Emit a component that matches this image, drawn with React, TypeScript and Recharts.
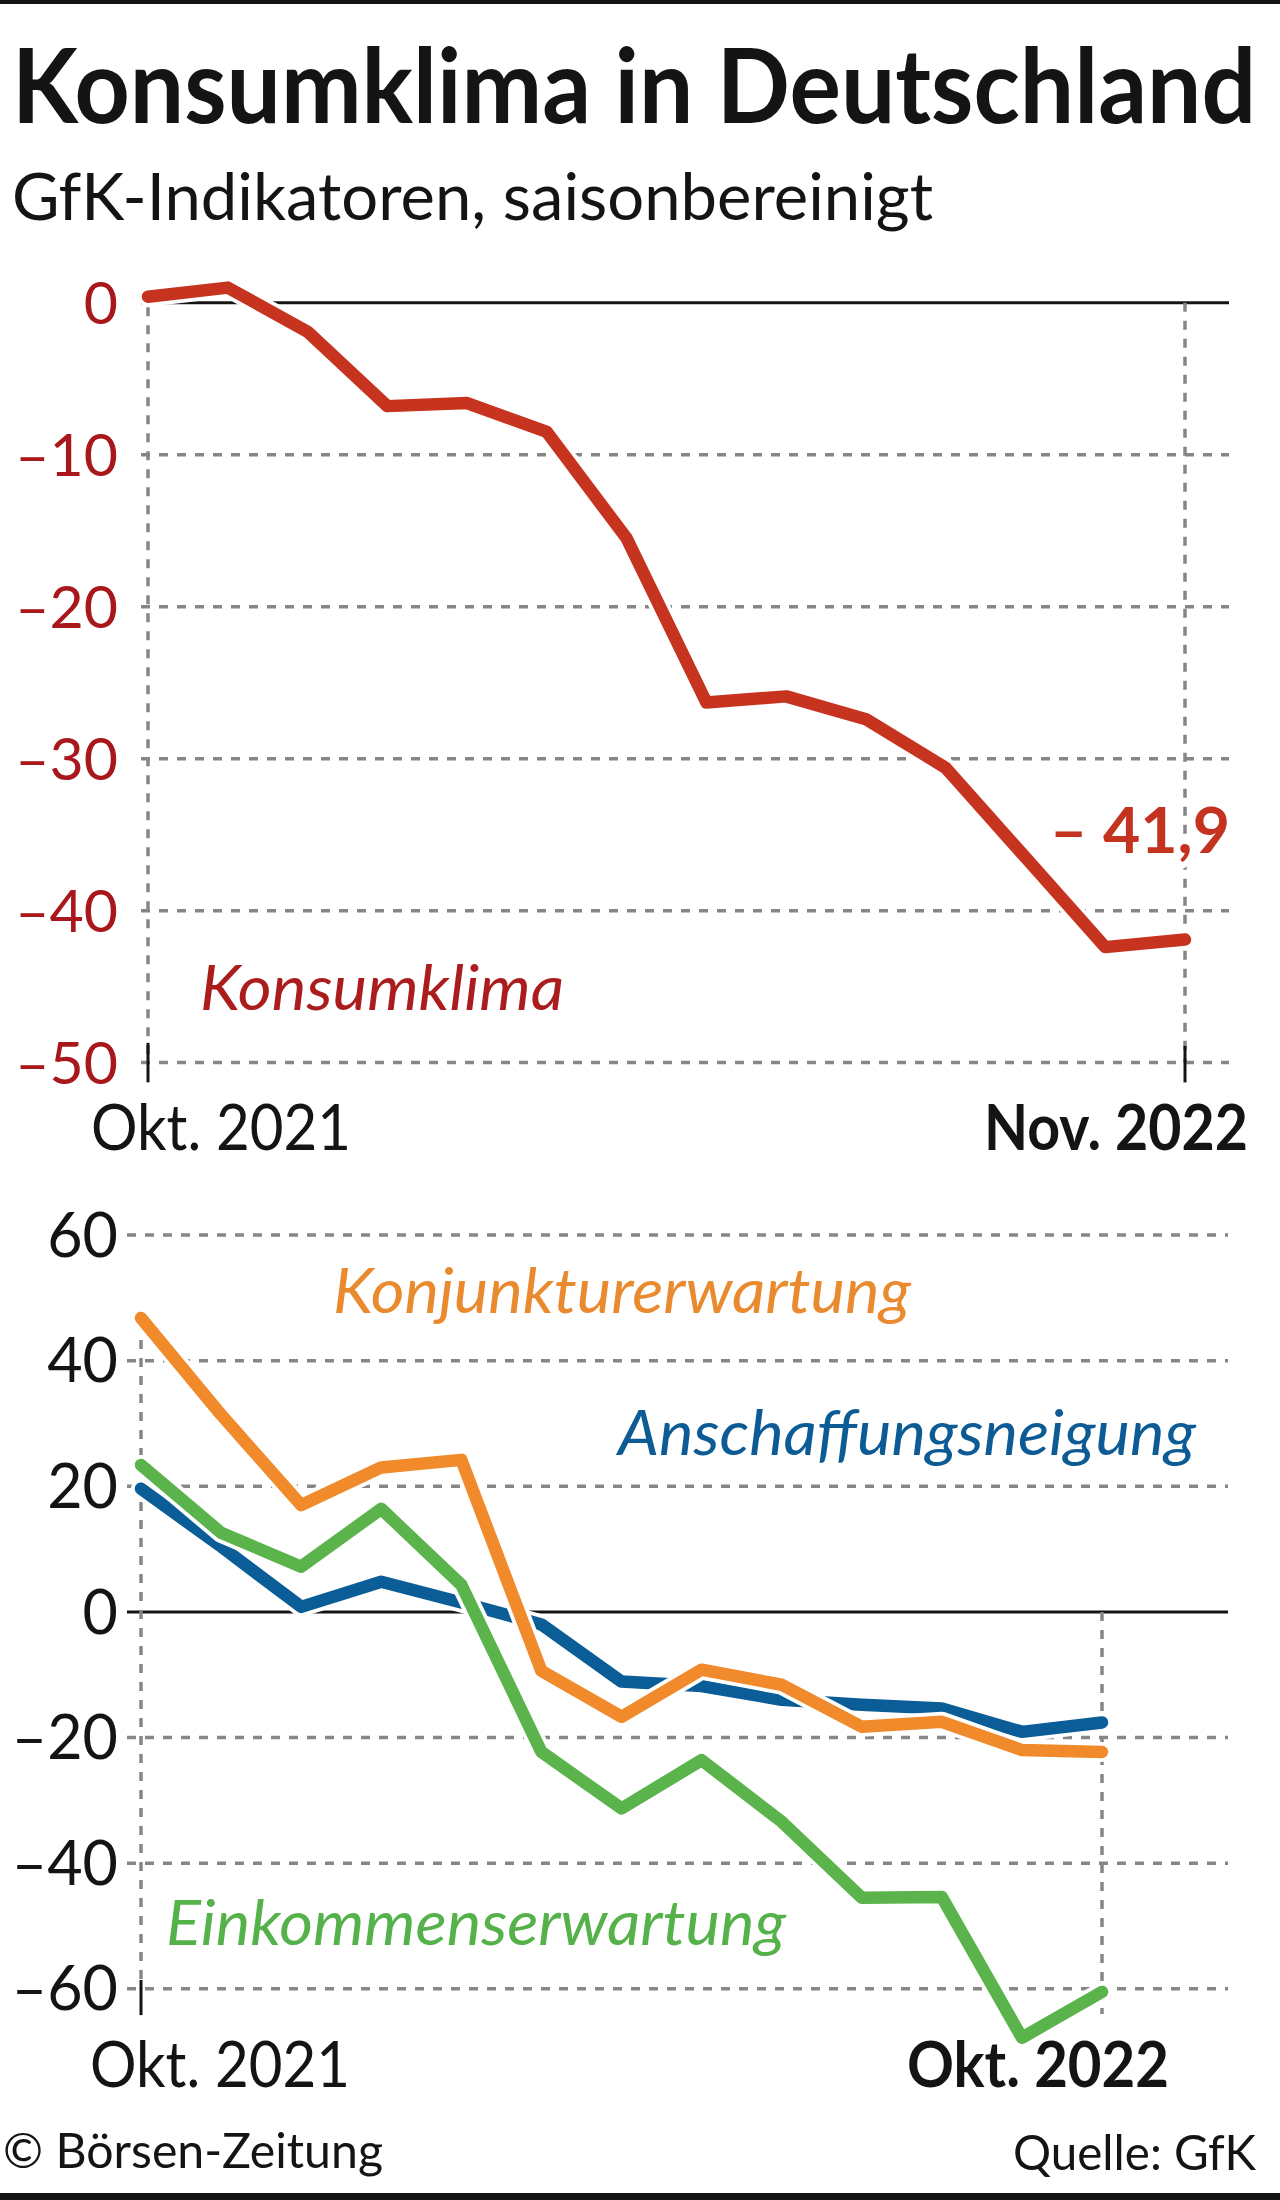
import React from 'react';
import { LineChart, Line, XAxis, YAxis, CartesianGrid, ReferenceLine } from 'recharts';

const FONT = "Lato, 'Noto Sans', 'Open Sans', sans-serif";
const GRID = '#868686';
const INK = '#141414';

// ---------- data: top chart (Konsumklima) ----------
const topMonths = [
  'Okt 2021', 'Nov 2021', 'Dez 2021', 'Jan 2022', 'Feb 2022', 'Mär 2022', 'Apr 2022',
  'Mai 2022', 'Jun 2022', 'Jul 2022', 'Aug 2022', 'Sep 2022', 'Okt 2022', 'Nov 2022',
];
const konsumklima = [0.4, 1.0, -1.9, -6.8, -6.6, -8.5, -15.5, -26.3, -25.9, -27.4, -30.6, -36.5, -42.4, -41.9];
const topTicks = [-50, -40, -30, -20, -10, 0];
const topAxisLabels = ['Okt. 2021', 'Nov. 2022'];
const konsumValueLabel = '– 41,9';

// ---------- data: bottom chart (Teilindikatoren) ----------
const bottomMonths = [
  'Okt 2021', 'Nov 2021', 'Dez 2021', 'Jan 2022', 'Feb 2022', 'Mär 2022', 'Apr 2022',
  'Mai 2022', 'Jun 2022', 'Jul 2022', 'Aug 2022', 'Sep 2022', 'Okt 2022',
];
const konjunktur = [46.8, 31.4, 17.0, 23.0, 24.2, -9.4, -16.7, -9.2, -11.6, -18.3, -17.5, -22.0, -22.3];
const anschaffung = [19.6, 10.4, 0.8, 4.8, 1.5, -2.0, -11.1, -11.8, -14.0, -14.8, -15.4, -19.1, -17.6];
const einkommen = [23.4, 12.6, 7.2, 16.4, 4.3, -22.3, -31.3, -23.6, -33.4, -45.5, -45.4, -67.8, -60.5];
const bottomTicks = [-60, -40, -20, 0, 20, 40, 60];
const bottomAxisLabels = ['Okt. 2021', 'Okt. 2022'];

const topData = topMonths.map((m, i) => ({ month: m, konsumklima: konsumklima[i] }));
const bottomData = bottomMonths.map((m, i) => ({
  month: m,
  konjunktur: konjunktur[i],
  anschaffung: anschaffung[i],
  einkommen: einkommen[i],
}));

const fmt = (v: number) => (v < 0 ? `–${Math.abs(v)}` : `${v}`);

type TProps = {
  x: number; y: number; w?: number; size: number; weight?: number; italic?: boolean;
  fill?: string; anchor?: 'start' | 'end' | 'middle'; halo?: number; children: React.ReactNode;
};

// Text that is horizontally scaled so its advance width equals w (mimics a condensed face)
function T({ x, y, w, size, weight = 400, italic = false, fill = INK, anchor = 'start', halo = 0, children }: TProps) {
  const ref = React.useRef<SVGTextElement | null>(null);
  const [sx, setSx] = React.useState(1);
  React.useLayoutEffect(() => {
    const measure = () => {
      if (w && ref.current) {
        const n = ref.current.getComputedTextLength();
        if (n > 0) setSx(w / n);
      }
    };
    measure();
    const fonts: any = (document as any).fonts;
    if (fonts && fonts.ready) fonts.ready.then(measure);
  }, [w, size, weight, italic]);
  return (
    <g transform={`translate(${x},${y}) scale(${sx},1)`}>
      <text
        ref={ref}
        x={0}
        y={0}
        fontFamily={FONT}
        fontSize={size}
        fontWeight={weight}
        fontStyle={italic ? 'italic' : 'normal'}
        fill={fill}
        textAnchor={anchor}
        stroke={halo ? '#ffffff' : undefined}
        strokeWidth={halo || undefined}
        strokeLinejoin="round"
        style={{ paintOrder: 'stroke' }}
      >
        {children}
      </text>
    </g>
  );
}

function makeXTick(cats: string[], labels: string[], o: { firstDx: number; lastDx: number; dy: number; w0: number; w1: number }) {
  return (props: any) => {
    const { x, y, payload } = props;
    const v = payload && payload.value;
    if (v === cats[0]) {
      return <T x={x + o.firstDx} y={y + o.dy} size={64} w={o.w0}>{labels[0]}</T>;
    }
    if (v === cats[cats.length - 1]) {
      return <T x={x + o.lastDx} y={y + o.dy} size={64} weight={700} anchor="end" w={o.w1}>{labels[1]}</T>;
    }
    return <g />;
  };
}

const valueLabel = (p: any) => {
  if (p.index !== konsumklima.length - 1) return null;
  const vb = p.viewBox || {};
  const x = p.x ?? vb.x;
  const y = p.y ?? vb.y;
  return (
    <T x={x + 45} y={y - 87} size={64} weight={700} fill="#c3331f" anchor="end" w={180} halo={12}>
      {konsumValueLabel}
    </T>
  );
};

const LW = 12.5;
const HALO = 20;

function TopChart() {
  const first = topMonths[0];
  const last = topMonths[topMonths.length - 1];
  return (
    <LineChart width={1280} height={1193} data={topData} margin={{ top: 280, right: 51, bottom: 0, left: 0 }}>
      <CartesianGrid vertical={false} horizontalValues={[-50, -40, -30, -20, -10]} stroke={GRID} strokeWidth={3.5} strokeDasharray="9 9" />
      <CartesianGrid vertical={false} horizontalValues={[0]} stroke={INK} strokeWidth={3} />
      <XAxis
        dataKey="month"
        type="category"
        ticks={[first, last]}
        interval={0}
        padding={{ left: 7, right: 44 }}
        axisLine={false}
        tickLine={false}
        tickSize={0}
        tickMargin={0}
        height={100}
        tick={makeXTick(topMonths, topAxisLabels, { firstDx: -57, lastDx: 63, dy: 57, w0: 260, w1: 264 })}
      />
      <YAxis
        type="number"
        domain={[-52, 1.5]}
        ticks={topTicks}
        interval={0}
        width={141}
        axisLine={false}
        tickLine={false}
        tickSize={0}
        tickMargin={23}
        tickFormatter={fmt}
        tick={{ fill: '#a8171c', fontSize: 59, fontFamily: FONT }}
      />
      <ReferenceLine segment={[{ x: first, y: -0.3 }, { x: first, y: -50 }]} stroke={GRID} strokeWidth={3.5} strokeDasharray="9 9" />
      <ReferenceLine segment={[{ x: last, y: 0 }, { x: last, y: -50 }]} stroke={GRID} strokeWidth={3.5} strokeDasharray="9 9" />
      <ReferenceLine segment={[{ x: first, y: -48.7 }, { x: first, y: -51.3 }]} stroke={INK} strokeWidth={3} />
      <ReferenceLine segment={[{ x: last, y: -48.9 }, { x: last, y: -51.3 }]} stroke={INK} strokeWidth={3} />
      <Line type="linear" dataKey="konsumklima" stroke="#ffffff" strokeWidth={HALO} dot={false} activeDot={false} isAnimationActive={false} strokeLinejoin="round" strokeLinecap="round" />
      <Line type="linear" dataKey="konsumklima" stroke="#c6331f" strokeWidth={LW} dot={false} activeDot={false} isAnimationActive={false} strokeLinejoin="round" strokeLinecap="round" label={valueLabel} />
    </LineChart>
  );
}

function BottomChart() {
  const first = bottomMonths[0];
  const last = bottomMonths[bottomMonths.length - 1];
  const series: Array<[string, string]> = [
    ['anschaffung', '#0b5d97'],
    ['einkommen', '#5ab44b'],
    ['konjunktur', '#f08a2a'],
  ];
  return (
    <LineChart width={1280} height={989} data={bottomData} margin={{ top: 85, right: 52, bottom: 0, left: 0 }}>
      <CartesianGrid vertical={false} horizontalValues={[-60, -40, -20, 20, 40, 60]} stroke={GRID} strokeWidth={3.5} strokeDasharray="9 9" />
      <CartesianGrid vertical={false} horizontalValues={[0]} stroke={INK} strokeWidth={3} />
      <XAxis
        dataKey="month"
        type="category"
        ticks={[first, last]}
        interval={0}
        padding={{ left: 14, right: 126 }}
        axisLine={false}
        tickLine={false}
        tickSize={0}
        tickMargin={0}
        height={100}
        tick={makeXTick(bottomMonths, bottomAxisLabels, { firstDx: -51, lastDx: 67, dy: 48, w0: 260, w1: 262 })}
      />
      <YAxis
        type="number"
        domain={[-68, 60]}
        ticks={bottomTicks}
        interval={0}
        width={127}
        axisLine={false}
        tickLine={false}
        tickSize={0}
        tickMargin={9}
        tickFormatter={fmt}
        tick={{ fill: INK, fontSize: 61, fontFamily: FONT }}
      />
      <ReferenceLine segment={[{ x: first, y: 43.3 }, { x: first, y: -60 }]} stroke={GRID} strokeWidth={3.5} strokeDasharray="9 9" />
      <ReferenceLine segment={[{ x: last, y: 0 }, { x: last, y: -64 }]} stroke={GRID} strokeWidth={3.5} strokeDasharray="9 9" />
      <ReferenceLine segment={[{ x: first, y: -58.6 }, { x: first, y: -64.2 }]} stroke={INK} strokeWidth={3} />
      {series.flatMap(([key, color]) => [
        <Line key={key + '-halo'} type="linear" dataKey={key} stroke="#ffffff" strokeWidth={HALO} dot={false} activeDot={false} isAnimationActive={false} strokeLinejoin="round" strokeLinecap="round" />,
        <Line key={key} type="linear" dataKey={key} stroke={color} strokeWidth={LW} dot={false} activeDot={false} isAnimationActive={false} strokeLinejoin="round" strokeLinecap="round" />,
      ])}
    </LineChart>
  );
}

export default function App() {
  return (
    <div style={{ position: 'absolute', left: 0, top: 0, width: 1280, height: 2200, background: '#ffffff', overflow: 'hidden' }}>
      <div style={{ position: 'absolute', left: 0, top: 0 }}>
        <TopChart />
      </div>
      <div style={{ position: 'absolute', left: 0, top: 1150 }}>
        <BottomChart />
      </div>
      <svg width={1280} height={2200} style={{ position: 'absolute', left: 0, top: 0, pointerEvents: 'none' }}>
        <rect x={0} y={0} width={1280} height={4} fill={INK} />
        <rect x={0} y={2193} width={1280} height={7} fill={INK} />
        <T x={12} y={123} size={104} weight={700} w={1244}>Konsumklima in Deutschland</T>
        <T x={12} y={220} size={66} w={921}>GfK-Indikatoren, saisonbereinigt</T>
        <T x={200} y={1010} size={62} italic fill="#ab1d1d" w={364} halo={8}>Konsumklima</T>
        <T x={333} y={1313} size={62} italic fill="#ea8a2e" w={578} halo={8}>Konjunkturerwartung</T>
        <T x={618} y={1455} size={62} italic fill="#0d5b94" w={578} halo={8}>Anschaffungsneigung</T>
        <T x={166} y={1945} size={62} italic fill="#55b14a" w={620} halo={8}>Einkommenserwartung</T>
        <T x={3} y={2168} size={49} w={380}>© Börsen-Zeitung</T>
        <T x={1256} y={2170} size={49} anchor="end" w={243}>Quelle: GfK</T>
      </svg>
    </div>
  );
}
